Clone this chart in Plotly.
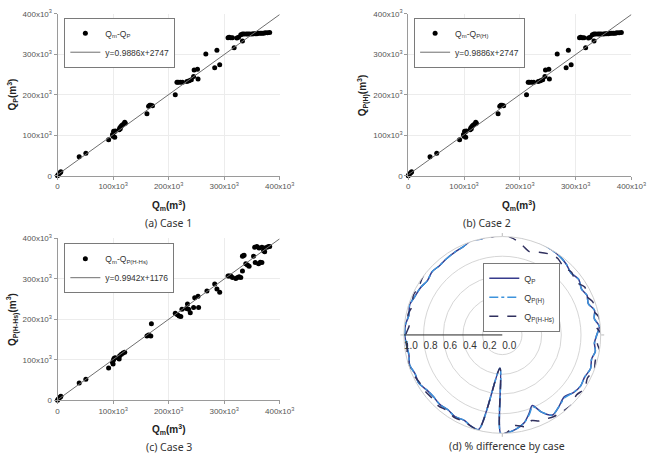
import plotly.graph_objects as go

W, H = 661, 460

# ---------------- data ----------------
tick_vals = [0, 100000, 200000, 300000, 400000]
tick_text = ["0", "100x10<sup>3</sup>", "200x10<sup>3</sup>", "300x10<sup>3</sup>", "400x10<sup>3</sup>"]

# Case 1 / Case 2 (values in 10^3 m^3)
qm_case1 = [0, 1, 3, 5, 6, 39, 51, 92, 99, 100, 102, 101, 104, 103, 111, 112, 114, 116, 119, 121, 122, 113,
            161, 164, 166, 168, 171, 212, 215, 217, 221, 225, 233, 237, 241, 245, 246, 252, 253, 267, 283, 287,
            292, 318, 307, 309, 312, 315, 323, 326, 333, 330, 333, 336, 340, 343, 346, 350, 353, 356, 359, 362,
            365, 368, 371, 374, 378, 382]
qp_case1 = [0, 3, 6, 8, 10, 47, 56, 89, 102, 98, 108, 110, 111, 95, 114, 118, 122, 125, 128, 132, 130, 116,
            153, 172, 174, 174, 173, 200, 231, 231, 231, 231, 233, 235, 237, 245, 261, 263, 239, 301, 267, 310,
            274, 316, 341, 342, 341, 341, 340, 342, 333, 348, 350, 350, 350, 350, 350, 350, 351, 351, 351, 352,
            352, 352, 352, 353, 353, 354]
qm_case2 = list(qm_case1)
qph_case2 = list(qp_case1)

# Case 3
qm_case3 = [0, 1, 3, 5, 6, 39, 51, 92, 99, 101, 102, 104, 100, 111, 112, 115, 118, 121, 161, 164, 168, 169,
            212, 216, 219, 222, 224, 232, 234, 236, 239, 245, 247, 253, 254, 269, 283, 287, 292, 307, 309, 312,
            315, 321, 324, 327, 330, 333, 333, 334, 336, 339, 342, 345, 353, 355, 359, 363, 356, 362, 365, 368,
            368, 372, 377, 380, 382, 371, 373]
qphhs_case3 = [0, 3, 6, 8, 10, 43, 52, 80, 94, 100, 104, 105, 90, 102, 110, 114, 117, 119, 159, 161, 159, 189,
               215, 211, 208, 207, 225, 227, 238, 225, 216, 229, 253, 257, 229, 270, 287, 275, 267, 307, 307, 307,
               303, 301, 303, 305, 303, 319, 356, 357, 358, 337, 334, 331, 356, 378, 380, 376, 340, 337, 341, 340,
               378, 376, 378, 380, 380, 369, 367]

fit12 = (0.9886, 2747)
fit3 = (0.9942, 1176)
fit_x = [0, 400000]

# (d) % difference by case (polar)
theta_deg = [272, 278, 284, 289, 293, 297, 302, 308, 315, 321, 327, 333, 339, 345, 350, 355, 0, 5, 10, 15,
             20, 25, 30, 36, 42, 48, 54, 60, 66, 72, 78, 84, 90, 96, 102, 108, 114, 120, 126, 132, 138, 144,
             150, 156, 162, 168, 174, 180, 186, 192, 198, 204, 210, 216, 222, 228, 234, 240, 246, 251, 256,
             266, 269, 272]
r_qp = [1.00, 0.97, 0.92, 0.84, 0.78, 0.88, 0.96, 0.93, 0.89, 0.93, 0.95, 0.94, 0.96, 0.94, 0.96, 0.94,
        0.96, 0.99, 0.95, 0.97, 0.93, 0.95, 0.93, 0.96, 0.94, 0.97, 0.99, 1.00, 1.01, 1.02, 1.01, 1.02, 1.01,
        1.03, 1.00, 1.01, 0.98, 0.97, 0.96, 0.95, 0.96, 0.94, 0.96, 0.97, 0.99, 0.97, 0.99, 0.99, 0.98, 0.97,
        0.99, 0.97, 0.98, 0.95, 0.94, 0.95, 0.94, 0.96, 0.95, 0.98, 0.99, 0.34, 1.00, 1.00]
r_qph = [1.00, 0.97, 0.92, 0.85, 0.79, 0.88, 0.96, 0.93, 0.90, 0.93, 0.95, 0.94, 0.96, 0.94, 0.96, 0.94,
         0.96, 0.99, 0.95, 0.97, 0.93, 0.95, 0.93, 0.96, 0.94, 0.97, 0.99, 1.00, 1.01, 1.02, 1.01, 1.02, 1.01,
         1.03, 1.00, 1.01, 0.98, 0.97, 0.96, 0.95, 0.96, 0.94, 0.96, 0.97, 0.99, 0.97, 0.99, 0.99, 0.98, 0.97,
         0.99, 0.97, 0.98, 0.95, 0.94, 0.95, 0.94, 0.96, 0.95, 0.98, 0.99, 0.34, 1.00, 1.00]
r_qphhs = [1.00, 0.93, 0.96, 0.92, 0.95, 0.96, 0.98, 0.99, 1.00, 0.97, 1.00, 0.97, 1.00, 0.98, 1.01, 0.97,
           1.01, 0.96, 1.00, 0.96, 0.98, 0.94, 0.97, 0.92, 0.95, 0.93, 0.96, 0.95, 0.92, 0.89, 0.94, 0.99, 1.02,
           1.00, 1.02, 1.01, 1.02, 1.03, 1.02, 1.03, 1.01, 1.00, 0.98, 0.99, 0.96, 0.98, 0.95, 0.98, 0.97, 0.99,
           1.00, 0.99, 0.97, 0.97, 0.96, 0.97, 0.95, 0.97, 0.96, 0.98, 0.99, 0.34, 1.00, 1.00]
r_ticks = [0.0, 0.2, 0.4, 0.6, 0.8, 1.0]

# ---------------- helpers ----------------
def px(x):
    return x / W

def py(y):
    return 1 - y / H

fig = go.Figure()

FONT = "Liberation Sans, Arial, sans-serif"
CAP_FONT = "Noto Sans, Open Sans, sans-serif"

panels = [
    ("x", "y", "legend", qm_case1, qp_case1, fit12, "Q<sub>m</sub>-Q<sub>P</sub>", 57, 285, 8, 174),
    ("x2", "y2", "legend2", qm_case2, qph_case2, fit12, "Q<sub>m</sub>-Q<sub>P(H)</sub>", 417, 646, 8, 174),
    ("x3", "y3", "legend3", qm_case3, qphhs_case3, fit3, "Q<sub>m</sub>-Q<sub>P(H-Hs)</sub>", 57, 285, 238, 404),
]

for xa, ya, lg, xs, ys, fit, lab, x0, x1, y0, y1 in panels:
    fig.add_trace(go.Scatter(
        x=[v * 1000 for v in xs], y=[v * 1000 for v in ys], mode="markers",
        marker=dict(color="black", size=5), name=lab, xaxis=xa, yaxis=ya, legend=lg,
        cliponaxis=False))
    fig.add_trace(go.Scatter(
        x=fit_x, y=[fit[0] * v + fit[1] for v in fit_x], mode="lines",
        line=dict(color="#6e6e6e", width=1), name="y=%.4fx+%d" % fit,
        xaxis=xa, yaxis=ya, legend=lg))

axis_common = dict(range=[0, 400000], tickvals=tick_vals, ticktext=tick_text, showline=True,
                   linecolor="#9a9a9a", linewidth=1, showgrid=True, gridcolor="#ececec", gridwidth=1,
                   zeroline=False, ticks="outside", ticklen=3, tickcolor="#9a9a9a",
                   tickfont=dict(size=8, color="#555555", family=FONT))

layout_axes = {}
for i, (xa, ya, lg, xs, ys, fit, lab, x0, x1, y0, y1) in enumerate(panels):
    suf = "" if i == 0 else str(i + 1)
    layout_axes["xaxis" + suf] = dict(axis_common, domain=[px(x0), px(x1)], anchor=ya)
    layout_axes["yaxis" + suf] = dict(axis_common, domain=[py(y1), py(y0)], anchor=xa)

fig.update_layout(**layout_axes)

# polar
line_specs = [
    ("Q<sub>P</sub>", r_qp, dict(color="#363b8c", width=1.5, dash="solid")),
    ("Q<sub>P(H)</sub>", r_qph, dict(color="#3d93dc", width=1.5, dash="dashdot")),
    ("Q<sub>P(H-Hs)</sub>", r_qphhs, dict(color="#30305e", width=1.5, dash="dash")),
]
for name, rv, ln in line_specs:
    fig.add_trace(go.Scatterpolar(
        r=rv, theta=theta_deg, mode="lines", name=name, line=dict(ln, shape="spline", smoothing=0.8),
        subplot="polar", legend="legend4", cliponaxis=False))

cx, cy, R = 513.5, 337, 101
fig.update_layout(
    polar=dict(
        domain=dict(x=[px(cx - R), px(cx + R)], y=[py(cy + R), py(cy - R)]),
        bgcolor="white",
        radialaxis=dict(range=[0, 1.0], angle=180, tickangle=180, side="counterclockwise",
                        tickvals=r_ticks, ticktext=["%.1f" % v for v in r_ticks],
                        showline=True, linecolor="#222222", linewidth=1, ticks="",
                        gridcolor="#d6d6d6", gridwidth=1,
                        tickfont=dict(size=10, color="#333333", family=FONT)),
        angularaxis=dict(rotation=0, direction="counterclockwise", showgrid=False,
                         showticklabels=False, ticks="outside", ticklen=3, tickcolor="#bbbbbb",
                         dtick=90, showline=True, linecolor="#cfcfcf", linewidth=1),
    )
)

leg_common = dict(bgcolor="white", bordercolor="#7a7a7a", borderwidth=1, xanchor="left", yanchor="top",
                  font=dict(size=8.5, color="#333333", family=FONT), tracegroupgap=0,
                  itemwidth=30)
fig.update_layout(
    legend=dict(leg_common, x=px(64), y=py(12)),
    legend2=dict(leg_common, x=px(423), y=py(12)),
    legend3=dict(leg_common, x=px(64), y=py(243)),
    legend4=dict(leg_common, x=px(494), y=py(263), font=dict(size=9, color="#333333", family=FONT)),
)

# axis titles and captions
ann = []
xt = "<b>Q<sub>m</sub>(m<sup>3</sup>)</b>"
for cxp, cyp in [(171, 204), (531, 204), (171, 434)]:
    ann.append(dict(text=xt, x=px(cxp), y=py(cyp), xref="paper", yref="paper", showarrow=False,
                    font=dict(size=10, color="#222222", family=FONT), xanchor="center", yanchor="middle"))
for txt, cxp, cyp in [("<b>Q<sub>P</sub>(m<sup>3</sup>)</b>", 11, 91),
                      ("<b>Q<sub>P(H)</sub>(m<sup>3</sup>)</b>", 370, 91),
                      ("<b>Q<sub>P(H-Hs)</sub>(m<sup>3</sup>)</b>", 11, 321)]:
    ann.append(dict(text=txt, x=px(cxp), y=py(cyp), xref="paper", yref="paper", showarrow=False,
                    textangle=-90, font=dict(size=10, color="#222222", family=FONT),
                    xanchor="center", yanchor="middle"))
for txt, cxp, cyp in [("(a) Case 1", 171, 222), ("(b) Case 2", 498, 222), ("(c) Case 3", 171, 452),
                      ("(d) % difference by case", 518, 451)]:
    ann.append(dict(text=txt, x=px(cxp), y=py(cyp), xref="paper", yref="paper", showarrow=False,
                    font=dict(size=10.5, color="#333333", family=CAP_FONT),
                    xanchor="center", yanchor="middle"))

fig.update_layout(
    annotations=ann,
    width=W, height=H, margin=dict(l=0, r=0, t=0, b=0),
    paper_bgcolor="white", plot_bgcolor="white",
    font=dict(family=FONT),
    showlegend=True,
)

fig.write_html("out.html", include_plotlyjs=True, config={"displayModeBar": False})
